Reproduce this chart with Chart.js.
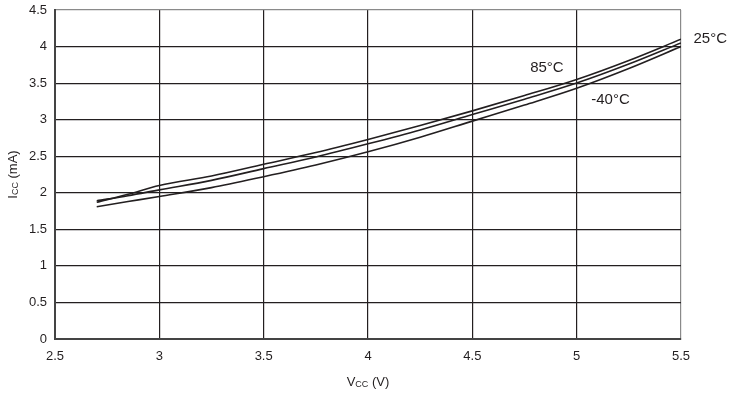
<!DOCTYPE html>
<html>
<head>
<meta charset="utf-8">
<script src="https://cdn.jsdelivr.net/npm/chart.js@4.4.1/dist/chart.umd.min.js"></script>
<style>
html,body{margin:0;padding:0;background:#fff;}
#wrap{width:732px;height:397px;position:relative;}
</style>
</head>
<body>
<div id="wrap"><canvas id="c" width="732" height="397"></canvas></div>
<script>
const vcc = [2.7, 2.85, 3.0, 3.25, 3.5, 3.75, 4.0, 4.25, 4.5, 4.75, 5.0, 5.25, 5.5];
const icc85 = [1.87, 1.98, 2.10, 2.23, 2.39, 2.55, 2.73, 2.92, 3.12, 3.33, 3.55, 3.81, 4.10];
const icc25 = [1.89, 1.96, 2.04, 2.17, 2.33, 2.49, 2.67, 2.86, 3.07, 3.28, 3.50, 3.76, 4.05];
const iccM40 = [1.81, 1.88, 1.95, 2.07, 2.22, 2.38, 2.56, 2.76, 2.98, 3.20, 3.43, 3.70, 4.00];
const seriesNames = ['85°C', '25°C', '-40°C'];
const labelTexts = ['25°C', '85°C', '-40°C'];
const labelX = [5.56, 4.777, 5.07];
const labelY = [4.11, 3.71, 3.27];
const xTicks = [2.5, 3, 3.5, 4, 4.5, 5, 5.5];
const yTicks = [0, 0.5, 1, 1.5, 2, 2.5, 3, 3.5, 4, 4.5];

const FONT = "'Liberation Sans', Arial, sans-serif";
const INK = '#231f20';

function pts(ys){ return vcc.map((x,i)=>({x:x,y:ys[i]})); }

const textPlugin = {
  id:'texts',
  afterDraw(chart){
    const ctx = chart.ctx;
    const xs = chart.scales.x, ys = chart.scales.y;
    ctx.save();
    ctx.fillStyle = INK;
    ctx.font = '15px ' + FONT;
    ctx.textBaseline = 'middle';
    ctx.textAlign = 'left';
    for (let i=0;i<labelTexts.length;i++){
      ctx.fillText(labelTexts[i], xs.getPixelForValue(labelX[i]), ys.getPixelForValue(labelY[i]));
    }
    function drawSub(parts, x, y){
      ctx.font = '13px ' + FONT;
      const w0 = ctx.measureText(parts[0]).width;
      ctx.font = '9px ' + FONT;
      const w1 = ctx.measureText(parts[1]).width;
      ctx.font = '13px ' + FONT;
      const w2 = ctx.measureText(parts[2]).width;
      let cx = x - (w0+w1+w2)/2;
      ctx.textAlign='left';
      ctx.font = '13px ' + FONT;
      ctx.fillText(parts[0], cx, y); cx += w0;
      ctx.font = '9px ' + FONT;
      ctx.fillText(parts[1], cx, y+3); cx += w1;
      ctx.font = '13px ' + FONT;
      ctx.fillText(parts[2], cx, y);
    }
    const ca = chart.chartArea;
    drawSub(['V','CC',' (V)'], (ca.left+ca.right)/2, 382);
    ctx.save();
    ctx.translate(13, (ca.top+ca.bottom)/2);
    ctx.rotate(-Math.PI/2);
    drawSub(['I','CC',' (mA)'], 0, 0);
    ctx.restore();
    ctx.restore();
  }
};

const lineStyle = {borderColor:INK, borderWidth:1.6, pointRadius:0, fill:false, cubicInterpolationMode:'monotone'};

new Chart(document.getElementById('c'), {
  type:'line',
  data:{
    datasets:[
      Object.assign({label:seriesNames[0], data:pts(icc85)}, lineStyle),
      Object.assign({label:seriesNames[1], data:pts(icc25)}, lineStyle),
      Object.assign({label:seriesNames[2], data:pts(iccM40)}, lineStyle)
    ]
  },
  options:{
    responsive:false,
    animation:false,
    devicePixelRatio:1,
    layout:{padding:{top:10,right:51,left:0,bottom:0}},
    plugins:{legend:{display:false},tooltip:{enabled:false}},
    scales:{
      x:{
        type:'linear', min:2.5, max:5.5,
        afterBuildTicks(s){ s.ticks = xTicks.map(v=>({value:v})); },
        afterFit(s){ s.height = 58; s.paddingLeft = 0; s.paddingRight = 0; },
        ticks:{color:INK, font:{family:FONT,size:13}, padding:10, maxRotation:0,
          callback:(v)=>String(v)},
        grid:{drawTicks:false, lineWidth:1.2,
          color:(c)=> c.tick && c.tick.value===5.5 ? '#8a8a8a' : INK},
        border:{color:'#444', width:2}
      },
      y:{
        type:'linear', min:0, max:4.5,
        afterBuildTicks(s){ s.ticks = yTicks.map(v=>({value:v})); },
        afterFit(s){ s.width = 55; s.paddingTop = 0; s.paddingBottom = 0; },
        ticks:{color:INK, font:{family:FONT,size:13}, padding:8,
          callback:(v)=>String(v)},
        grid:{drawTicks:false, lineWidth:1.2,
          color:(c)=> c.tick && c.tick.value===4.5 ? '#8a8a8a' : INK},
        border:{color:'#444', width:2}
      }
    }
  },
  plugins:[textPlugin]
});
</script>
</body>
</html>
